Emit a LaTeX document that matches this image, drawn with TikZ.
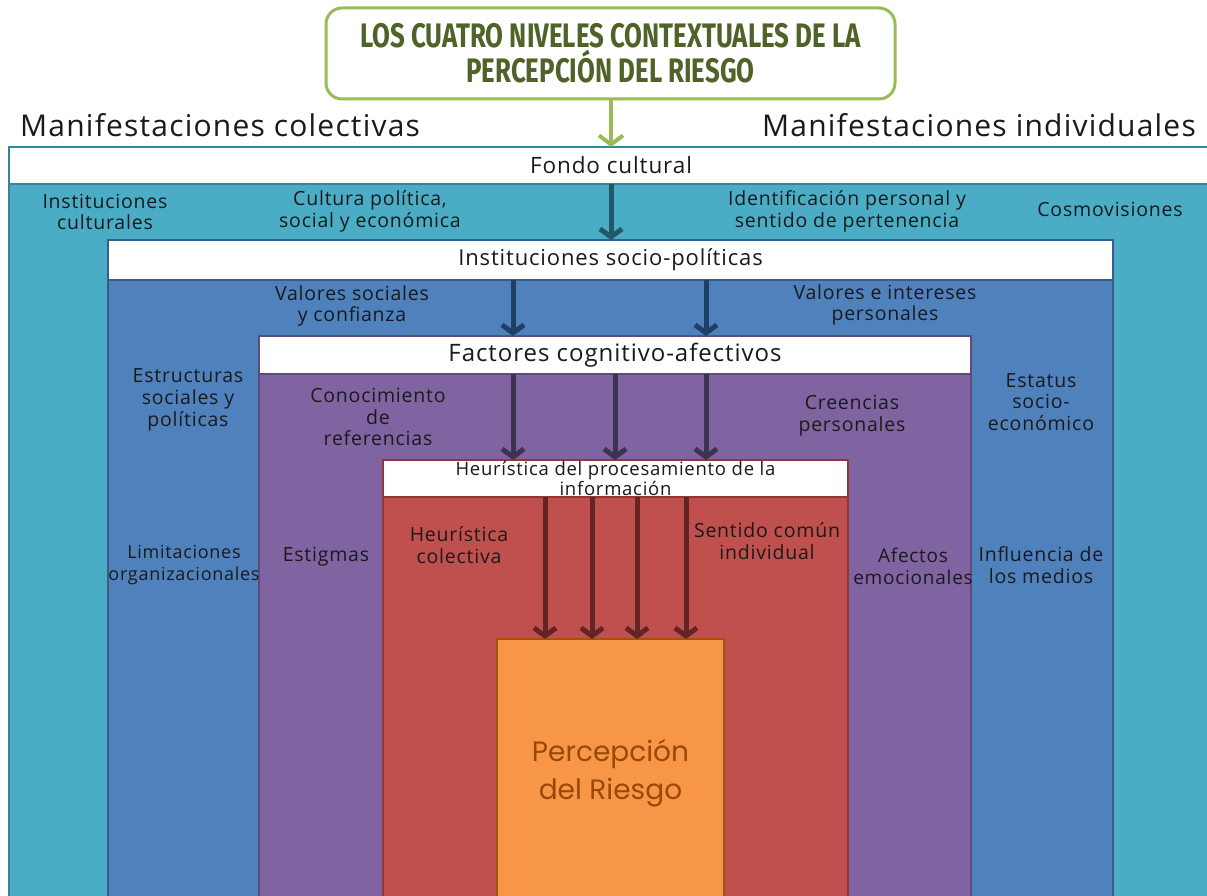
\documentclass[tikz,border=0pt]{standalone}
\usepackage{fontspec}
\setmainfont{Open Sans}[LetterSpace=4]
\newfontfamily\titlefont[FakeStretch=0.76]{Fira Sans}
\newfontfamily\percfont{Poppins}
\usetikzlibrary{arrows.meta}

\definecolor{tealF}{HTML}{4BACC6}
\definecolor{tealB}{HTML}{31859C}
\definecolor{tealA}{HTML}{215968}
\definecolor{blueF}{HTML}{4F81BD}
\definecolor{blueB}{HTML}{385D8A}
\definecolor{blueA}{HTML}{1F3F66}
\definecolor{purpF}{HTML}{8064A2}
\definecolor{purpB}{HTML}{5F4A7B}
\definecolor{purpA}{HTML}{3F3151}
\definecolor{redF}{HTML}{C0504D}
\definecolor{redB}{HTML}{943634}
\definecolor{redA}{HTML}{632523}
\definecolor{orgF}{HTML}{F79646}
\definecolor{orgB}{HTML}{A0520F}
\definecolor{orgT}{HTML}{984807}
\definecolor{grnB}{HTML}{9BBB59}
\definecolor{grnT}{HTML}{4F6228}
\definecolor{ink}{HTML}{1A1A1A}

\begin{document}
\begin{tikzpicture}[x=1pt,y=-1pt,
  level/.style={draw, line width=2.5pt, anchor=north west, inner sep=0pt, outer sep=0pt},
  strip/.style={draw, fill=white, line width=2.5pt, anchor=north west, inner sep=0pt, outer sep=0pt, text=ink},
  lab/.style={align=center, inner sep=0pt, text=ink, font=\fontsize{19.5}{21.8}\selectfont},
  big/.style={inner sep=0pt, text=ink, font=\fontsize{30}{34}\selectfont},
  arr/.style={line width=5pt, -{Straight Barb[length=8pt,width=22pt]}}
]
\useasboundingbox (0,0) rectangle (1207,896);
\clip (0,0) rectangle (1207,896);
\fill[white] (0,0) rectangle (1207,896);

% nested context levels
\node[level, fill=tealF, draw=tealB, minimum width=1215, minimum height=780] (nivelA) at (9,147) {};
\node[strip, draw=tealB, minimum width=1204, minimum height=37,
      font=\fontsize{22.5}{26}\selectfont] (fondo) at (9,147) {Fondo cultural};

\node[level, fill=blueF, draw=blueB, minimum width=1005, minimum height=700] (nivelB) at (108,240) {};
\node[strip, draw=blueB, minimum width=1005, minimum height=40,
      font=\fontsize{22}{26}\selectfont] (insti) at (108,240) {Instituciones socio-políticas};

\node[level, fill=purpF, draw=purpB, minimum width=712, minimum height=600] (nivelC) at (259,336) {};
\node[strip, draw=purpB, minimum width=712, minimum height=38,
      font=\fontsize{24}{28}\selectfont] (factores) at (259,336) {Factores cognitivo-afectivos};

\node[level, fill=redF, draw=redB, minimum width=465, minimum height=500] (nivelD) at (383,460) {};
\node[strip, draw=redB, minimum width=465, minimum height=37, align=center,
      font=\fontsize{18.5}{19.5}\selectfont] (heur) at (383,460) {Heurística del procesamiento de la\\información};

\node[level, fill=orgF, draw=orgB, minimum width=227, minimum height=300] (perc) at (497,639) {};
\node[align=center, inner sep=0pt, text=orgT, font=\percfont\fontsize{28}{38}\selectfont]
      (percT) at (610.5,773) {Percepción\\del Riesgo};

% title
\node[draw=grnB, line width=3pt, rounded corners=16pt, fill=white,
      minimum width=569, minimum height=91, inner sep=0pt, align=center, text=grnT,
      font=\titlefont\bfseries\fontsize{34}{35}\selectfont] (titulo) at (610.5,53.5)
      {LOS CUATRO NIVELES CONTEXTUALES DE LA\\PERCEPCIÓN DEL RIESGO};

\node[big, anchor=west] (colect) at (20,125) {Manifestaciones colectivas};
\node[big, anchor=east] (indiv) at (1196,125) {Manifestaciones individuales};

% connector columns
\coordinate (c0) at (611,0);
\coordinate (b1) at (513,0);
\coordinate (b2) at (706,0);
\coordinate (p2) at (615,0);
\coordinate (r1) at (545,0);
\coordinate (r2) at (592,0);
\coordinate (r3) at (637,0);
\coordinate (r4) at (686,0);

\draw[arr, grnB, line width=4pt, -{Straight Barb[length=9pt,width=24pt]}] (titulo.south -| c0) -- (fondo.north -| c0);
\draw[arr, tealA] (fondo.south -| c0) -- (insti.north -| c0);
\draw[arr, blueA] (insti.south -| b1) -- (factores.north -| b1);
\draw[arr, blueA] (insti.south -| b2) -- (factores.north -| b2);
\draw[arr, purpA] (factores.south -| b1) -- (heur.north -| b1);
\draw[arr, purpA] (factores.south -| p2) -- (heur.north -| p2);
\draw[arr, purpA] (factores.south -| b2) -- (heur.north -| b2);
\draw[arr, redA] (heur.south -| r1) -- (perc.north -| r1);
\draw[arr, redA] (heur.south -| r2) -- (perc.north -| r2);
\draw[arr, redA] (heur.south -| r3) -- (perc.north -| r3);
\draw[arr, redA] (heur.south -| r4) -- (perc.north -| r4);

% level labels
\node[lab] (l1) at (105,212) {Instituciones\\culturales};
\node[lab] (l2) at (370,211) {Cultura política,\\social y económica};
\node[lab] (l3) at (847,211) {Identificación personal y\\sentido de pertenencia};
\node[lab] (l4) at (1110,209) {Cosmovisiones};

\node[lab] (l5) at (352,306) {Valores sociales\\y confianza};
\node[lab] (l6) at (885,305) {Valores e intereses\\personales};
\node[lab] (l7) at (188,400) {Estructuras\\sociales y\\políticas};
\node[lab] (l8) at (1041,402) {Estatus\\socio-\\económico};
\node[lab, font=\fontsize{18}{21.8}\selectfont] (l9) at (184,565) {Limitaciones\\organizacionales};
\node[lab] (l10) at (1041,565) {Influencia de\\los medios};

\node[lab] (l11) at (378,417) {Conocimiento\\de\\referencias};
\node[lab] (l12) at (852,416) {Creencias\\personales};
\node[lab] (l13) at (326,557) {Estigmas};
\node[lab, font=\fontsize{19}{21.8}\selectfont] (l14) at (913,566) {Afectos\\emocionales};

\node[lab] (l15) at (459,545) {Heurística\\colectiva};
\node[lab] (l16) at (767,541) {Sentido común\\individual};
\end{tikzpicture}
\end{document}
